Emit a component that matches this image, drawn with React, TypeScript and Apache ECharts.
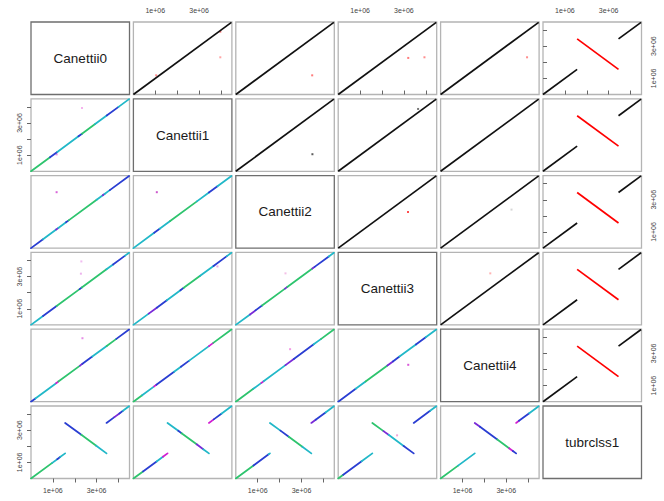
import React, { useEffect, useRef } from "react";
import * as echarts from "echarts";

// ---------- data (positions in Mb) ----------
const genomes = ["Canettii0", "Canettii1", "Canettii2", "Canettii3", "Canettii4", "tubrclss1"];
const genomeLength = 4.48;
const axisMax = 4.5;
const tickValues = [1, 2, 3, 4];
const labelValues = [1, 3];
const tickLabels = ["1e+06", "3e+06"];
// inverted block of tubrclss1 relative to the Canettii genomes
const inversion = [1.56, 3.45];

const palette: Record<string, string> = {
  g: "#2ec46e",
  c: "#22b8c8",
  b: "#2a3ed2",
  p: "#7a2ad8",
  m: "#d21fd2",
};

// colour runs along the x genome for the lower panels: [start, end, colour]
const runs10 = [[0, 0.87, "g"], [0.87, 1.2, "b"], [1.2, 2.17, "c"], [2.17, 2.33, "b"], [2.33, 2.93, "g"], [2.93, 3.46, "c"], [3.46, 4.0, "b"], [4.0, 4.48, "c"]];
const runs20 = [[0, 0.55, "b"], [0.55, 1.15, "c"], [1.15, 1.25, "p"], [1.25, 1.6, "c"], [1.6, 1.72, "b"], [1.72, 3.0, "g"], [3.0, 3.28, "c"], [3.28, 3.36, "p"], [3.36, 3.6, "c"], [3.6, 4.48, "b"]];
const runs21 = [[0, 0.95, "c"], [0.95, 1.2, "b"], [1.2, 1.68, "c"], [1.68, 2.9, "g"], [2.9, 3.45, "c"], [3.45, 3.84, "b"], [3.84, 4.48, "c"]];
const runs30 = [[0, 0.55, "c"], [0.55, 1.17, "b"], [1.17, 2.22, "g"], [2.22, 2.32, "b"], [2.32, 3.45, "g"], [3.45, 3.75, "c"], [3.75, 4.3, "b"], [4.3, 4.48, "c"]];
const runs31 = [[0, 0.7, "c"], [0.7, 1.07, "p"], [1.07, 1.53, "b"], [1.53, 2.15, "c"], [2.15, 2.3, "b"], [2.3, 3.05, "g"], [3.05, 3.66, "c"], [3.66, 4.27, "b"], [4.27, 4.48, "c"]];
const runs32 = [[0, 0.65, "c"], [0.65, 0.9, "p"], [0.9, 1.2, "b"], [1.2, 2.25, "g"], [2.25, 2.35, "p"], [2.35, 3.5, "g"], [3.5, 3.6, "p"], [3.6, 4.25, "b"], [4.25, 4.48, "c"]];
const runs40 = [[0, 0.2, "b"], [0.2, 1.15, "c"], [1.15, 1.25, "m"], [1.25, 2.24, "g"], [2.24, 2.35, "p"], [2.35, 2.8, "b"], [2.8, 3.46, "c"], [3.46, 3.9, "g"], [3.9, 4.48, "b"]];
const runs41 = [[0, 0.4, "g"], [0.4, 0.95, "c"], [0.95, 1.05, "m"], [1.05, 1.86, "b"], [1.86, 2.17, "c"], [2.17, 2.55, "b"], [2.55, 3.45, "c"], [3.45, 3.65, "m"], [3.65, 4.48, "g"]];
const runs42 = [[0, 0.8, "g"], [0.8, 1.17, "c"], [1.17, 1.27, "m"], [1.27, 2.27, "c"], [2.27, 2.65, "p"], [2.65, 3.56, "b"], [3.56, 3.9, "c"], [3.9, 4.48, "g"]];
const runs43 = [[0, 0.8, "b"], [0.8, 1.25, "c"], [1.25, 2.25, "g"], [2.25, 2.5, "p"], [2.5, 2.8, "b"], [2.8, 3.55, "c"], [3.55, 4.0, "b"], [4.0, 4.48, "c"]];
const runs50 = [[0, 0.97, "g"], [0.97, 1.2, "c"], [1.2, 1.33, "b"], [1.33, 1.56, "c"], [1.56, 2.3, "b"], [2.3, 2.98, "g"], [2.98, 3.45, "c"], [3.45, 3.81, "b"], [3.81, 4.04, "p"], [4.04, 4.2, "b"], [4.2, 4.48, "c"]];
const runs51 = [[0, 0.44, "g"], [0.44, 1.06, "b"], [1.06, 1.35, "c"], [1.35, 1.56, "m"], [1.56, 2.05, "c"], [2.05, 2.2, "b"], [2.2, 2.89, "g"], [2.89, 3.19, "p"], [3.19, 3.45, "c"], [3.45, 3.67, "m"], [3.67, 4.02, "b"], [4.02, 4.48, "c"]];
const runs52 = [[0, 0.81, "g"], [0.81, 1.5, "b"], [1.5, 1.56, "c"], [1.56, 2.04, "c"], [2.04, 2.42, "b"], [2.42, 3.04, "g"], [3.04, 3.45, "c"], [3.45, 3.65, "p"], [3.65, 4.1, "b"], [4.1, 4.48, "c"]];
const runs53 = [[0, 0.23, "g"], [0.23, 1.07, "b"], [1.07, 1.56, "c"], [1.56, 2.07, "g"], [2.07, 2.3, "p"], [2.3, 2.99, "c"], [2.99, 3.45, "b"], [3.45, 4.2, "b"], [4.2, 4.48, "c"]];
const runs54 = [[0, 0.8, "g"], [0.8, 1.56, "c"], [1.56, 1.8, "p"], [1.8, 2.59, "b"], [2.59, 3.13, "g"], [3.13, 3.3, "m"], [3.3, 3.45, "b"], [3.45, 3.58, "m"], [3.58, 4.05, "b"], [4.05, 4.48, "c"]];

const lowerRuns: Record<string, any[]> = {
  "1-0": runs10, "2-0": runs20, "2-1": runs21, "3-0": runs30, "3-1": runs31, "3-2": runs32,
  "4-0": runs40, "4-1": runs41, "4-2": runs42, "4-3": runs43,
  "5-0": runs50, "5-1": runs51, "5-2": runs52, "5-3": runs53, "5-4": runs54,
};

// isolated hits: [x, y, colour]
const dots01 = [[3.97, 3.9, "#ff5a5a"], [3.97, 2.31, "#ff9090"], [1.04, 1.19, "#ff7070"]];
const dots02 = [[3.49, 1.19, "#ff5a5a"]];
const dots03 = [[3.2, 2.27, "#ff5a5a"], [3.94, 2.31, "#ff7070"]];
const dots04 = [[3.95, 2.31, "#ff7070"]];
const dots12 = [[3.5, 1.06, "#333333"]];
const dots13 = [[3.65, 3.87, "#555555"]];
const dots23 = [[3.19, 2.24, "#ff2020"]];
const dots24 = [[3.24, 2.39, "#cccccc"]];
const dots34 = [[2.27, 3.2, "#ffa0a0"]];
const dots10 = [[2.33, 3.93, "#f2a0e8"], [1.17, 1.05, "#e070e0"]];
const dots20 = [[1.17, 3.47, "#d040d0"]];
const dots21 = [[1.07, 3.47, "#c030c0"]];
const dots30 = [[2.3, 3.94, "#eeaaee"], [2.28, 3.18, "#e8a0e8"]];
const dots31 = [[3.84, 3.63, "#e090e0"]];
const dots32 = [[2.27, 3.2, "#f0b0e0"]];
const dots40 = [[2.35, 3.94, "#e070e0"]];
const dots42 = [[2.48, 3.26, "#f080e0"]];
const dots43 = [[3.2, 2.29, "#d030d0"]];
const dots53 = [[2.69, 2.68, "#f090d0"]];

const panelDots: Record<string, any[]> = {
  "0-1": dots01, "0-2": dots02, "0-3": dots03, "0-4": dots04, "1-2": dots12, "1-3": dots13,
  "2-3": dots23, "2-4": dots24, "3-4": dots34,
  "1-0": dots10, "2-0": dots20, "2-1": dots21, "3-0": dots30, "3-1": dots31, "3-2": dots32,
  "4-0": dots40, "4-2": dots42, "4-3": dots43, "5-3": dots53,
};

// ---------- layout ----------
const LEFT0 = 31;
const TOP0 = 22;
const COL_PITCH = 102.4;
const ROW_PITCH = 76.8;
const PANEL_W = 98.5;
const PANEL_H = 72.5;
const FONT = "'Liberation Sans', Arial, Helvetica, sans-serif";

// map a Canettii position to tubrclss1 (and back; it is its own inverse)
function mapTub(x: number): number {
  if (x > inversion[0] && x < inversion[1]) return inversion[0] + inversion[1] - x;
  if (x === inversion[0]) return inversion[1];
  return x;
}

function buildOption() {
  const n = genomes.length;
  const grids: any[] = [];
  const xAxes: any[] = [];
  const yAxes: any[] = [];
  const series: any[] = [];
  const graphics: any[] = [];

  const labelFmt = (v: number) => {
    const i = labelValues.indexOf(v);
    return i >= 0 ? tickLabels[i] : "";
  };
  const axisLabelBase = {
    customValues: labelValues,
    formatter: labelFmt,
    fontSize: 7,
    color: "#444",
    fontFamily: FONT,
    margin: 8,
  };
  const axisTickBase = {
    show: true,
    customValues: tickValues,
    length: 4,
    lineStyle: { color: "#666", width: 1 },
  };

  let gi = 0;
  for (let r = 0; r < n; r++) {
    for (let c = 0; c < n; c++) {
      const left = LEFT0 + c * COL_PITCH;
      const top = TOP0 + r * ROW_PITCH;
      if (r === c) {
        graphics.push({
          type: "rect",
          shape: { x: left, y: top, width: PANEL_W, height: PANEL_H },
          style: { fill: "none", stroke: "#6e6e6e", lineWidth: 1.3 },
          silent: true,
        });
        graphics.push({
          type: "text",
          x: left + PANEL_W / 2,
          y: top + PANEL_H / 2,
          style: {
            text: genomes[r],
            fontSize: 13.5,
            fontFamily: FONT,
            fill: "#1a1a1a",
            align: "center",
            verticalAlign: "middle",
            textAlign: "center",
            textVerticalAlign: "middle",
          },
          silent: true,
        });
        continue;
      }
      grids.push({
        left,
        top,
        width: PANEL_W,
        height: PANEL_H,
        show: true,
        borderColor: "#b4b4b4",
        borderWidth: 1.3,
        containLabel: false,
      });

      const topAxis = r === 0 && c % 2 === 1;
      const bottomAxis = r === n - 1 && c % 2 === 0;
      const leftAxis = c === 0 && r % 2 === 1;
      const rightAxis = c === n - 1 && r % 2 === 0;

      xAxes.push({
        gridIndex: gi,
        type: "value",
        min: 0,
        max: axisMax,
        position: topAxis ? "top" : "bottom",
        show: topAxis || bottomAxis,
        axisLine: { show: false },
        splitLine: { show: false },
        axisTick: axisTickBase,
        axisLabel: axisLabelBase,
      });
      yAxes.push({
        gridIndex: gi,
        type: "value",
        min: 0,
        max: axisMax,
        position: rightAxis ? "right" : "left",
        show: leftAxis || rightAxis,
        axisLine: { show: false },
        splitLine: { show: false },
        axisTick: axisTickBase,
        axisLabel: { ...axisLabelBase, rotate: 90 },
      });

      const key = `${r}-${c}`;
      const base = {
        type: "line",
        xAxisIndex: gi,
        yAxisIndex: gi,
        symbol: "none",
        showSymbol: false,
        silent: true,
        animation: false,
      };

      if (r < c) {
        // upper triangle: black forward hits, red reverse hits
        const tub = c === n - 1;
        if (!tub) {
          series.push({
            ...base,
            data: [[0, 0], [genomeLength, genomeLength]],
            lineStyle: { color: "#111", width: 1.7 },
          });
        } else {
          series.push({
            ...base,
            data: [[0, 0], [inversion[0], mapTub(inversion[0] - 1e-9)]],
            lineStyle: { color: "#111", width: 1.7 },
          });
          series.push({
            ...base,
            data: [[inversion[1], inversion[1]], [genomeLength, genomeLength]],
            lineStyle: { color: "#111", width: 1.7 },
          });
          series.push({
            ...base,
            data: [[inversion[0], inversion[1]], [inversion[1], inversion[0]]],
            lineStyle: { color: "#ff0000", width: 1.7 },
          });
        }
      } else {
        const runs = lowerRuns[key] || [];
        const tub = r === n - 1;
        runs.forEach((run: any[]) => {
          const s = run[0] as number;
          const e = run[1] as number;
          let ys = s;
          let ye = e;
          if (tub) {
            const inInv = s >= inversion[0] && e <= inversion[1];
            ys = inInv ? inversion[0] + inversion[1] - s : s;
            ye = inInv ? inversion[0] + inversion[1] - e : e;
          }
          series.push({
            ...base,
            data: [[s, ys], [e, ye]],
            lineStyle: { color: palette[run[2] as string], width: 1.8, cap: "round" },
          });
        });
      }

      const dots = panelDots[key];
      if (dots && dots.length) {
        series.push({
          type: "scatter",
          xAxisIndex: gi,
          yAxisIndex: gi,
          symbol: "rect",
          symbolSize: 2,
          silent: true,
          data: dots.map((d) => ({ value: [d[0], d[1]], itemStyle: { color: d[2] } })),
        });
      }
      gi++;
    }
  }

  return {
    animation: false,
    backgroundColor: "#ffffff",
    grid: grids,
    xAxis: xAxes,
    yAxis: yAxes,
    series,
    graphic: graphics,
  };
}

export default function App() {
  const ref = useRef<HTMLDivElement>(null);
  useEffect(() => {
    if (!ref.current) return;
    const chart = echarts.init(ref.current, undefined, { renderer: "svg" });
    chart.setOption(buildOption() as any);
    return () => chart.dispose();
  }, []);
  return (
    <div
      ref={ref}
      style={{ position: "absolute", left: 0, top: 0, width: 664, height: 501, background: "#fff" }}
    />
  );
}
